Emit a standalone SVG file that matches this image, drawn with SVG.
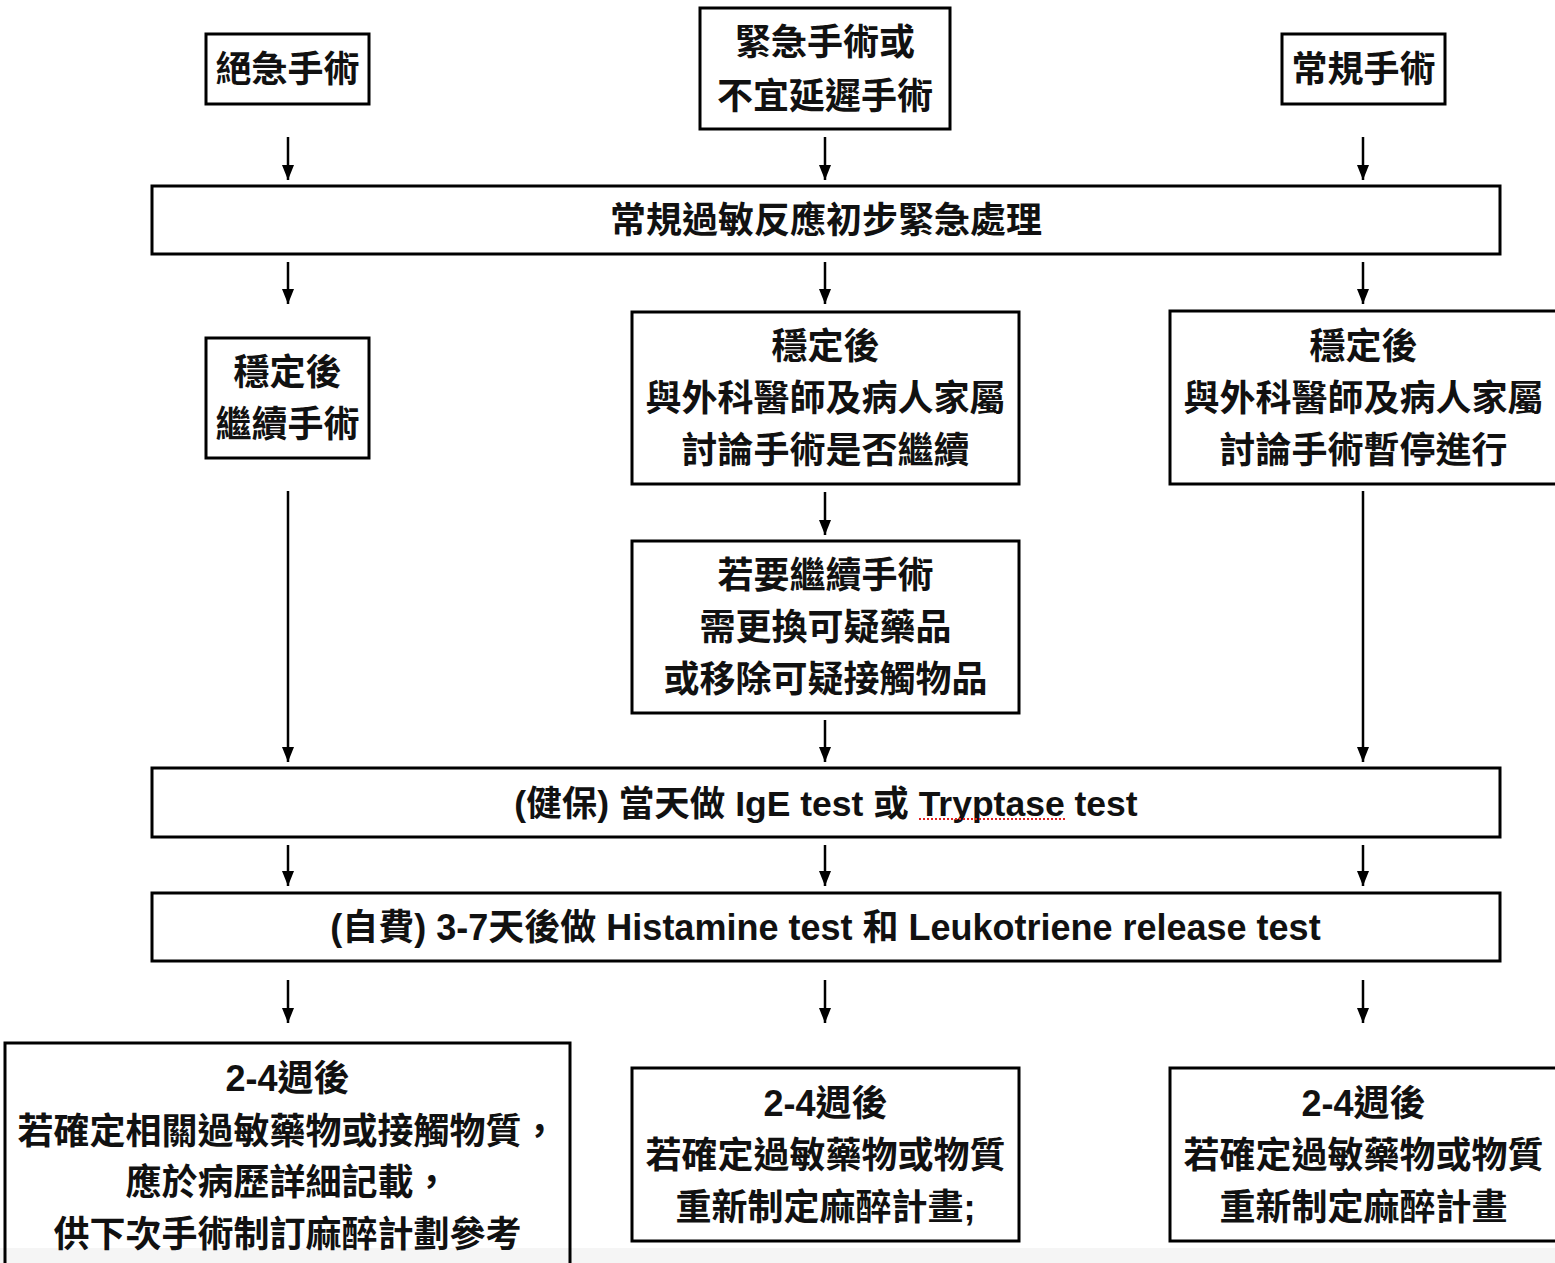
<svg xmlns="http://www.w3.org/2000/svg" width="1555" height="1263" viewBox="0 0 1555 1263">
<defs>
<style>
.box{fill:none;stroke:#000;stroke-width:3}
.t{font-family:"Liberation Sans","Noto Sans CJK TC","Noto Sans CJK SC",sans-serif;font-size:36px;font-weight:bold;text-anchor:middle;fill:#111}
.l{font-family:"Liberation Sans","Noto Sans CJK TC",sans-serif;font-size:35.5px;font-weight:bold;text-anchor:middle;fill:#111}
.c{stroke:#000;stroke-width:2.5;fill:none}
</style>
<marker id="ah" markerWidth="15" markerHeight="12" refX="15" refY="6" orient="auto" markerUnits="userSpaceOnUse" viewBox="0 0 15 12">
<path d="M0,0 L15,6 L0,12 Z" fill="#000"/>
</marker>
</defs>
<rect x="0" y="0" width="1555" height="1263" fill="#fff"/>
<rect x="0" y="1248" width="1555" height="15" fill="#f5f5f5"/>

<g id="connectors">
<line class="c" x1="288" y1="137" x2="288" y2="180" marker-end="url(#ah)"/>
<line class="c" x1="825" y1="137" x2="825" y2="180" marker-end="url(#ah)"/>
<line class="c" x1="1363" y1="137" x2="1363" y2="180" marker-end="url(#ah)"/>
<line class="c" x1="288" y1="262" x2="288" y2="304" marker-end="url(#ah)"/>
<line class="c" x1="825" y1="262" x2="825" y2="304" marker-end="url(#ah)"/>
<line class="c" x1="1363" y1="262" x2="1363" y2="304" marker-end="url(#ah)"/>
<line class="c" x1="825" y1="492" x2="825" y2="535" marker-end="url(#ah)"/>
<line class="c" x1="288" y1="491" x2="288" y2="762" marker-end="url(#ah)"/>
<line class="c" x1="825" y1="720" x2="825" y2="762" marker-end="url(#ah)"/>
<line class="c" x1="1363" y1="491" x2="1363" y2="762" marker-end="url(#ah)"/>
<line class="c" x1="288" y1="845" x2="288" y2="886" marker-end="url(#ah)"/>
<line class="c" x1="825" y1="845" x2="825" y2="886" marker-end="url(#ah)"/>
<line class="c" x1="1363" y1="845" x2="1363" y2="886" marker-end="url(#ah)"/>
<line class="c" x1="288" y1="980" x2="288" y2="1023" marker-end="url(#ah)"/>
<line class="c" x1="825" y1="980" x2="825" y2="1023" marker-end="url(#ah)"/>
<line class="c" x1="1363" y1="980" x2="1363" y2="1023" marker-end="url(#ah)"/>
</g>

<g id="n1">
<rect class="box" x="206" y="34" width="163" height="70"/>
<text class="t" x="287.5" y="82">絕急手術</text>
</g>
<g id="n2">
<rect class="box" x="700" y="8" width="250" height="121"/>
<text class="t" x="825" y="55">緊急手術或</text>
<text class="t" x="825" y="109">不宜延遲手術</text>
</g>
<g id="n3">
<rect class="box" x="1282" y="34" width="163" height="70"/>
<text class="t" x="1363.5" y="82">常規手術</text>
</g>
<g id="n4">
<rect class="box" x="152" y="186" width="1348" height="68"/>
<text class="t" x="826" y="233">常規過敏反應初步緊急處理</text>
</g>
<g id="n5">
<rect class="box" x="206" y="338" width="163" height="120"/>
<text class="t" x="287.5" y="385">穩定後</text>
<text class="t" x="287.5" y="437">繼續手術</text>
</g>
<g id="n6">
<rect class="box" x="632" y="312" width="387" height="172"/>
<text class="t" x="825.5" y="359">穩定後</text>
<text class="t" x="825.5" y="411">與外科醫師及病人家屬</text>
<text class="t" x="825.5" y="463">討論手術是否繼續</text>
</g>
<g id="n7">
<rect class="box" x="1170" y="311" width="400" height="173"/>
<text class="t" x="1363.5" y="359">穩定後</text>
<text class="t" x="1363.5" y="411">與外科醫師及病人家屬</text>
<text class="t" x="1363.5" y="463">討論手術暫停進行</text>
</g>
<g id="n8">
<rect class="box" x="632" y="541" width="387" height="172"/>
<text class="t" x="825.5" y="588">若要繼續手術</text>
<text class="t" x="825.5" y="640">需更換可疑藥品</text>
<text class="t" x="825.5" y="692">或移除可疑接觸物品</text>
</g>
<g id="n9">
<rect class="box" x="152" y="768" width="1348" height="69"/>
<text class="l" x="826" y="816">(健保) 當天做 IgE test 或 Tryptase test</text>
<line x1="919" y1="819" x2="1066" y2="819" stroke="#e02020" stroke-width="2" stroke-dasharray="2,2"/>
</g>
<g id="n10">
<rect class="box" x="152" y="893" width="1348" height="68"/>
<text class="l" x="825.5" y="940" style="font-size:36px">(自費) 3-7天後做 Histamine test 和 Leukotriene release test</text>
</g>
<g id="n11">
<rect class="box" x="5" y="1043" width="565" height="240"/>
<text class="t" x="287.5" y="1091">2-4週後</text>
<text class="t" x="287.5" y="1144">若確定相關過敏藥物或接觸物質，</text>
<text class="t" x="287.5" y="1195">應於病歷詳細記載，</text>
<text class="t" x="287.5" y="1247">供下次手術制訂麻醉計劃參考</text>
</g>
<g id="n12">
<rect class="box" x="632" y="1068" width="387" height="173"/>
<text class="t" x="825.5" y="1116">2-4週後</text>
<text class="t" x="825.5" y="1168">若確定過敏藥物或物質</text>
<text class="t" x="825.5" y="1220">重新制定麻醉計畫;</text>
</g>
<g id="n13">
<rect class="box" x="1170" y="1068" width="400" height="173"/>
<text class="t" x="1363.5" y="1116">2-4週後</text>
<text class="t" x="1363.5" y="1168">若確定過敏藥物或物質</text>
<text class="t" x="1363.5" y="1220">重新制定麻醉計畫</text>
</g>
</svg>
